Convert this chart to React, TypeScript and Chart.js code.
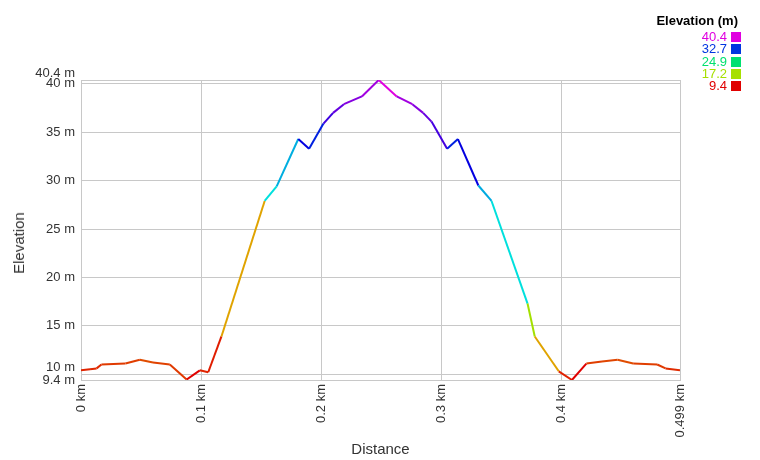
import React, { useEffect, useRef } from "react";
import { Chart, registerables } from "chart.js";

Chart.register(...registerables);

// ---- data ----
const distanceKm = [
  0, 0.0075, 0.013, 0.017, 0.037, 0.049, 0.06, 0.074, 0.088, 0.099, 0.106,
  0.117, 0.153, 0.163, 0.181, 0.19, 0.202, 0.21, 0.219, 0.234, 0.248,
  0.263, 0.276, 0.285, 0.292, 0.305, 0.314, 0.331, 0.342, 0.372, 0.378,
  0.398, 0.409, 0.421, 0.434, 0.447, 0.46, 0.48, 0.487, 0.499,
];
const elevationM = [
  10.4, 10.5, 10.6, 11.0, 11.1, 11.5, 11.2, 11.0, 9.45, 10.4, 10.2,
  13.9, 27.9, 29.4, 34.3, 33.3, 35.9, 37.0, 37.9, 38.7, 40.4,
  38.7, 37.9, 37.0, 36.1, 33.3, 34.3, 29.5, 27.9, 17.3, 13.9,
  10.3, 9.4, 11.1, 11.3, 11.5, 11.1, 11.0, 10.6, 10.4,
];
const yTickValues = [9.4, 10, 15, 20, 25, 30, 35, 40, 40.4];
const xTickValues = [0, 0.1, 0.2, 0.3, 0.4, 0.499];
const legendValues = [40.4, 32.7, 24.9, 17.2, 9.4];
const legendTitle = "Elevation (m)";
const xTitle = "Distance";
const yTitle = "Elevation";

const ELEV_MIN = 9.4;
const ELEV_MAX = 40.4;
const FONT = "Arial, 'Liberation Sans', sans-serif";

function elevColor(e: number): string {
  const t = Math.max(0, Math.min(1, (e - ELEV_MIN) / (ELEV_MAX - ELEV_MIN)));
  return `hsl(${(t * 300).toFixed(1)}, 100%, 44%)`;
}

// labels that crowd a neighbouring tick are lifted by one half-line
function yLabel(v: number): string | string[] {
  const txt = `${v} m`;
  const idx = yTickValues.indexOf(v);
  const next = yTickValues[idx + 1];
  const prev = yTickValues[idx - 1];
  if (v === ELEV_MAX || (prev !== undefined && v - prev < 1 && next !== undefined)) {
    return [txt, ""];
  }
  return txt;
}

export default function App() {
  const canvasRef = useRef<HTMLCanvasElement | null>(null);

  useEffect(() => {
    const canvas = canvasRef.current;
    if (!canvas) return;
    const chart = new Chart(canvas, {
      type: "line",
      data: {
        datasets: [
          {
            data: distanceKm.map((d, i) => ({ x: d, y: elevationM[i] })),
            borderWidth: 2,
            pointRadius: 0,
            tension: 0,
            fill: false,
            borderColor: elevColor(elevationM[0]),
            segment: {
              borderColor: (ctx: any) => elevColor(ctx.p0.parsed.y),
            },
          },
        ],
      },
      options: {
        animation: false,
        responsive: false,
        maintainAspectRatio: false,
        layout: { padding: { top: 80, right: 80, left: 0, bottom: 0 } },
        plugins: {
          legend: { display: false },
          tooltip: { enabled: false },
        },
        scales: {
          x: {
            type: "linear",
            min: 0,
            max: 0.499,
            afterBuildTicks: (s: any) => {
              s.ticks = xTickValues.map((v) => ({ value: v }));
            },
            afterFit: (s: any) => {
              s.height = 80;
            },
            ticks: {
              autoSkip: false,
              maxRotation: 90,
              minRotation: 90,
              padding: 4,
              color: "#333",
              font: { family: FONT, size: 13 },
              callback: (v: any) => `${v} km`,
            },
            grid: { color: "#c8c8c8", drawTicks: false, lineWidth: 1 },
            border: { color: "#c8c8c8" },
            title: {
              display: true,
              text: xTitle,
              color: "#333",
              font: { family: FONT, size: 15 },
              padding: { top: 0, bottom: 1 },
            },
          },
          y: {
            type: "linear",
            min: ELEV_MIN,
            max: ELEV_MAX,
            afterBuildTicks: (s: any) => {
              s.ticks = yTickValues.map((v) => ({ value: v }));
            },
            afterFit: (s: any) => {
              s.width = 81;
            },
            ticks: {
              autoSkip: false,
              padding: 6,
              color: "#333",
              font: { family: FONT, size: 13, lineHeight: 1.0 },
              callback: (v: any) => yLabel(Number(v)),
            },
            grid: { color: "#c8c8c8", drawTicks: false, lineWidth: 1 },
            border: { color: "#c8c8c8" },
            title: { display: false },
          },
        },
      },
    });
    return () => chart.destroy();
  }, []);

  return (
    <div
      style={{
        position: "fixed",
        left: 0,
        top: 0,
        width: 760,
        height: 460,
        background: "#fff",
        fontFamily: FONT,
      }}
    >
      <canvas ref={canvasRef} width={760} height={460} style={{ width: 760, height: 460, display: "block" }} />
      <div
        style={{
          position: "absolute",
          left: 19,
          top: 243,
          transform: "translate(-50%, -50%) rotate(-90deg)",
          whiteSpace: "nowrap",
          fontSize: 15,
          lineHeight: "16px",
          color: "#333",
        }}
      >
        {yTitle}
      </div>
      <div
        style={{
          position: "absolute",
          right: 760 - 738,
          top: 14,
          fontSize: 13,
          fontWeight: "bold",
          lineHeight: "14px",
          color: "#000",
          whiteSpace: "nowrap",
        }}
      >
        {legendTitle}
      </div>
      {legendValues.map((v, i) => (
        <div
          key={v}
          style={{
            position: "absolute",
            right: 760 - 741,
            top: 31 + i * 12.3,
            height: 12,
            display: "flex",
            alignItems: "center",
            whiteSpace: "nowrap",
          }}
        >
          <span style={{ fontSize: 13, lineHeight: "12px", color: elevColor(v), marginRight: 4 }}>{v}</span>
          <span style={{ width: 10, height: 10, background: elevColor(v), display: "inline-block" }} />
        </div>
      ))}
    </div>
  );
}
